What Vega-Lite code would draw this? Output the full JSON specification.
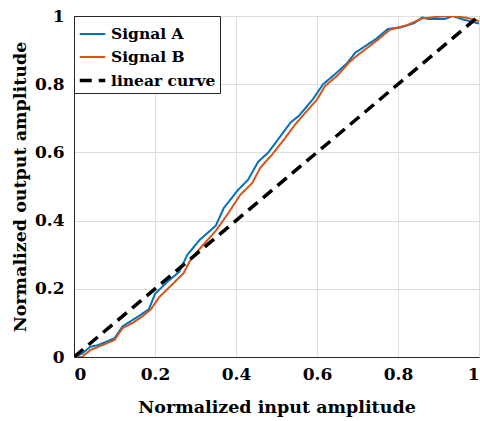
{
  "$schema": "https://vega.github.io/schema/vega-lite/v6.json",
  "width": 405,
  "height": 341,
  "autosize": {"type": "none"},
  "padding": {"left": 74, "top": 16, "right": 1, "bottom": 64},
  "background": "white",
  "config": {
    "view": {"stroke": "#262626", "strokeWidth": 1},
    "axis": {
      "labelFont": "DejaVu Serif",
      "labelFontWeight": "bold",
      "labelFontSize": 17,
      "labelColor": "#000000",
      "titleFont": "DejaVu Serif",
      "titleFontWeight": "bold",
      "titleFontSize": 17.5,
      "titleColor": "#000000",
      "domainColor": "#262626",
      "tickColor": "#262626",
      "gridColor": "#dedede",
      "gridWidth": 1
    },
    "legend": {
      "labelFont": "DejaVu Serif",
      "labelFontWeight": "bold",
      "labelFontSize": 15.5,
      "labelColor": "#000000"
    }
  },
  "datasets": {
    "curves": [
      {"x": 0, "y": 0, "series": "Signal A"},
      {"x": 0.02, "y": 0.01, "series": "Signal A"},
      {"x": 0.04, "y": 0.03, "series": "Signal A"},
      {"x": 0.06, "y": 0.035, "series": "Signal A"},
      {"x": 0.08, "y": 0.045, "series": "Signal A"},
      {"x": 0.1, "y": 0.055, "series": "Signal A"},
      {"x": 0.12, "y": 0.09, "series": "Signal A"},
      {"x": 0.14, "y": 0.105, "series": "Signal A"},
      {"x": 0.16, "y": 0.12, "series": "Signal A"},
      {"x": 0.185, "y": 0.14, "series": "Signal A"},
      {"x": 0.2, "y": 0.185, "series": "Signal A"},
      {"x": 0.23, "y": 0.22, "series": "Signal A"},
      {"x": 0.26, "y": 0.25, "series": "Signal A"},
      {"x": 0.28, "y": 0.3, "series": "Signal A"},
      {"x": 0.31, "y": 0.343, "series": "Signal A"},
      {"x": 0.35, "y": 0.385, "series": "Signal A"},
      {"x": 0.37, "y": 0.437, "series": "Signal A"},
      {"x": 0.405, "y": 0.49, "series": "Signal A"},
      {"x": 0.43, "y": 0.52, "series": "Signal A"},
      {"x": 0.455, "y": 0.573, "series": "Signal A"},
      {"x": 0.48, "y": 0.6, "series": "Signal A"},
      {"x": 0.51, "y": 0.648, "series": "Signal A"},
      {"x": 0.535, "y": 0.688, "series": "Signal A"},
      {"x": 0.555, "y": 0.707, "series": "Signal A"},
      {"x": 0.59, "y": 0.756, "series": "Signal A"},
      {"x": 0.615, "y": 0.8, "series": "Signal A"},
      {"x": 0.645, "y": 0.83, "series": "Signal A"},
      {"x": 0.673, "y": 0.86, "series": "Signal A"},
      {"x": 0.695, "y": 0.893, "series": "Signal A"},
      {"x": 0.745, "y": 0.932, "series": "Signal A"},
      {"x": 0.775, "y": 0.962, "series": "Signal A"},
      {"x": 0.805, "y": 0.966, "series": "Signal A"},
      {"x": 0.84, "y": 0.979, "series": "Signal A"},
      {"x": 0.86, "y": 0.996, "series": "Signal A"},
      {"x": 0.875, "y": 0.991, "series": "Signal A"},
      {"x": 0.915, "y": 0.991, "series": "Signal A"},
      {"x": 0.935, "y": 1.0, "series": "Signal A"},
      {"x": 0.96, "y": 0.99, "series": "Signal A"},
      {"x": 1.0, "y": 0.978, "series": "Signal A"},
      {"x": 0, "y": 0, "series": "Signal B"},
      {"x": 0.02, "y": 0.0, "series": "Signal B"},
      {"x": 0.04, "y": 0.02, "series": "Signal B"},
      {"x": 0.07, "y": 0.035, "series": "Signal B"},
      {"x": 0.1, "y": 0.05, "series": "Signal B"},
      {"x": 0.12, "y": 0.085, "series": "Signal B"},
      {"x": 0.145, "y": 0.1, "series": "Signal B"},
      {"x": 0.17, "y": 0.12, "series": "Signal B"},
      {"x": 0.19, "y": 0.14, "series": "Signal B"},
      {"x": 0.21, "y": 0.175, "series": "Signal B"},
      {"x": 0.24, "y": 0.21, "series": "Signal B"},
      {"x": 0.27, "y": 0.245, "series": "Signal B"},
      {"x": 0.29, "y": 0.29, "series": "Signal B"},
      {"x": 0.32, "y": 0.33, "series": "Signal B"},
      {"x": 0.35, "y": 0.37, "series": "Signal B"},
      {"x": 0.38, "y": 0.42, "series": "Signal B"},
      {"x": 0.41, "y": 0.475, "series": "Signal B"},
      {"x": 0.44, "y": 0.51, "series": "Signal B"},
      {"x": 0.46, "y": 0.555, "series": "Signal B"},
      {"x": 0.49, "y": 0.595, "series": "Signal B"},
      {"x": 0.52, "y": 0.64, "series": "Signal B"},
      {"x": 0.545, "y": 0.68, "series": "Signal B"},
      {"x": 0.57, "y": 0.715, "series": "Signal B"},
      {"x": 0.6, "y": 0.755, "series": "Signal B"},
      {"x": 0.62, "y": 0.795, "series": "Signal B"},
      {"x": 0.65, "y": 0.825, "series": "Signal B"},
      {"x": 0.68, "y": 0.865, "series": "Signal B"},
      {"x": 0.7, "y": 0.885, "series": "Signal B"},
      {"x": 0.75, "y": 0.93, "series": "Signal B"},
      {"x": 0.78, "y": 0.96, "series": "Signal B"},
      {"x": 0.82, "y": 0.972, "series": "Signal B"},
      {"x": 0.86, "y": 0.993, "series": "Signal B"},
      {"x": 0.9, "y": 0.998, "series": "Signal B"},
      {"x": 0.935, "y": 1.0, "series": "Signal B"},
      {"x": 0.97, "y": 0.995, "series": "Signal B"},
      {"x": 1.0, "y": 0.985, "series": "Signal B"},
      {"x": 0, "y": 0, "series": "linear curve"},
      {"x": 1, "y": 1, "series": "linear curve"}
    ]
  },
  "data": {"name": "curves"},
  "mark": {"type": "line", "clip": true},
  "encoding": {
    "x": {
      "field": "x", "type": "quantitative",
      "scale": {"domain": [0, 1], "nice": false},
      "axis": {"values": [0, 0.2, 0.4, 0.6, 0.8, 1], "format": "~g", "title": "Normalized input amplitude", "tickSize": 0, "labelPadding": 9, "titlePadding": 16}
    },
    "y": {
      "field": "y", "type": "quantitative",
      "scale": {"domain": [0, 1], "nice": false},
      "axis": {"values": [0, 0.2, 0.4, 0.6, 0.8, 1], "format": "~g", "title": "Normalized output amplitude", "tickSize": 0, "labelPadding": 10, "titlePadding": 5}
    },
    "color": {
      "field": "series", "type": "nominal",
      "scale": {"domain": ["Signal A", "Signal B", "linear curve"], "range": ["#0072BD", "#D95319", "#000000"]},
      "legend": {
        "title": null, "orient": "top-left", "offset": 0,
        "strokeColor": "#262626", "fillColor": "white", "padding": 4,
        "symbolType": "stroke", "symbolSize": 650,
        "rowPadding": 0, "labelOffset": 4
      }
    },
    "strokeDash": {
      "field": "series", "type": "nominal",
      "scale": {"domain": ["Signal A", "Signal B", "linear curve"], "range": [[1, 0], [1, 0], [12, 7]]}
    },
    "strokeWidth": {
      "field": "series", "type": "ordinal",
      "scale": {"type": "ordinal", "domain": ["Signal A", "Signal B", "linear curve"], "range": [2, 2, 3.5]}
    }
  }
}
